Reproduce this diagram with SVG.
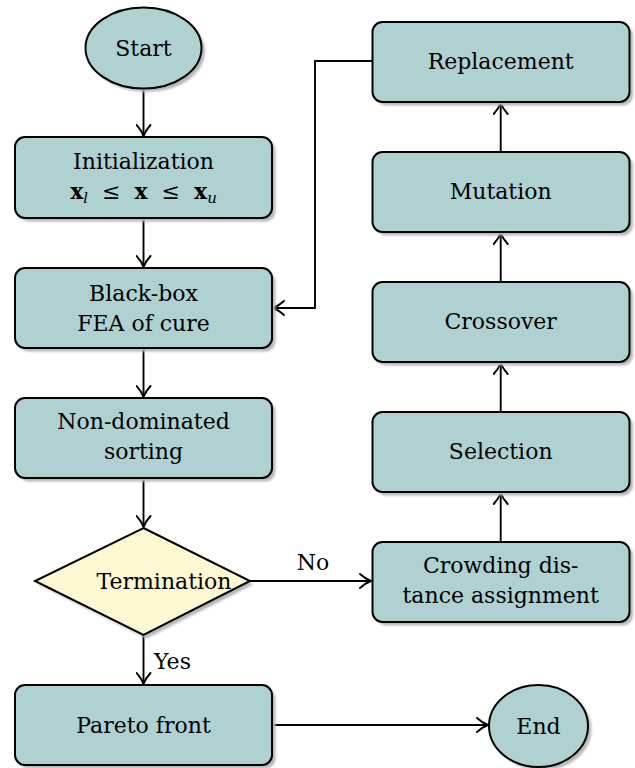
<svg xmlns="http://www.w3.org/2000/svg" width="635" height="768" viewBox="0 0 635 768">
<style>
.box{fill:#b0d1d2;stroke:#000;stroke-width:2}
.dec{fill:#fdf8d2;stroke:#000;stroke-width:2}
.sh{fill:#b8b8b8}
.t{font-family:"DejaVu Serif","Liberation Serif",serif;font-size:22px;fill:#000;text-anchor:middle}
.lbl{font-family:"DejaVu Serif","Liberation Serif",serif;font-size:22px;fill:#000}
.c{fill:none;stroke:#000;stroke-width:1.9}
</style>
<defs>
<marker id="ah" viewBox="0 0 14 16" refX="12.5" refY="8" markerWidth="14" markerHeight="16" markerUnits="userSpaceOnUse" orient="auto">
<path d="M1.5,1 Q7,6 12.5,8 Q7,10 1.5,15" fill="none" stroke="#000" stroke-width="1.9" stroke-linecap="round" stroke-linejoin="round"/>
</marker>
<filter id="blur" x="-10%" y="-10%" width="120%" height="120%"><feGaussianBlur stdDeviation="1"/></filter>
</defs>
<rect width="635" height="768" fill="#fff"/>

<g id="connectors">
<path class="c" d="M143.5,88 V136" marker-end="url(#ah)"/>
<path class="c" d="M143.5,218 V267" marker-end="url(#ah)"/>
<path class="c" d="M143.5,348 V397" marker-end="url(#ah)"/>
<path class="c" d="M143.5,478 V527" marker-end="url(#ah)"/>
<path class="c" d="M143.5,635 V684" marker-end="url(#ah)"/>
<path class="c" d="M250,581 H371" marker-end="url(#ah)"/>
<path class="c" d="M272,725 H488" marker-end="url(#ah)"/>
<path class="c" d="M500.7,542 V493" marker-end="url(#ah)"/>
<path class="c" d="M500.7,412 V363" marker-end="url(#ah)"/>
<path class="c" d="M500.7,282 V233" marker-end="url(#ah)"/>
<path class="c" d="M500.7,152 V103" marker-end="url(#ah)"/>
<path class="c" d="M372,61 H315 V308 H273" marker-end="url(#ah)"/>
<text class="lbl" x="313" y="570" text-anchor="middle">No</text>
<text class="lbl" x="154" y="669">Yes</text>
</g>

<g id="start">
<ellipse class="sh" cx="147" cy="51.5" rx="58" ry="40.5" filter="url(#blur)"/>
<ellipse class="box" cx="143.5" cy="48" rx="58" ry="40.5"/>
<text class="t" x="143.5" y="56">Start</text>
</g>

<g id="init">
<rect class="sh" x="18.5" y="140.5" width="257" height="81" rx="10" filter="url(#blur)"/>
<rect class="box" x="15" y="137" width="257" height="81" rx="10"/>
<text class="t" x="143.5" y="169">Initialization</text>
<text class="t" x="143.5" y="199"><tspan font-weight="bold">x</tspan><tspan font-style="italic" font-size="15" dy="4">l</tspan><tspan dy="-4" xml:space="preserve">  ≤  </tspan><tspan font-weight="bold">x</tspan><tspan xml:space="preserve">  ≤  </tspan><tspan font-weight="bold">x</tspan><tspan font-style="italic" font-size="15" dy="4">u</tspan></text>
</g>

<g id="blackbox">
<rect class="sh" x="18.5" y="271.5" width="257" height="80" rx="10" filter="url(#blur)"/>
<rect class="box" x="15" y="268" width="257" height="80" rx="10"/>
<text class="t" x="143.5" y="301">Black-box</text>
<text class="t" x="143.5" y="331">FEA of cure</text>
</g>

<g id="nondom">
<rect class="sh" x="18.5" y="401.5" width="257" height="80" rx="10" filter="url(#blur)"/>
<rect class="box" x="15" y="398" width="257" height="80" rx="10"/>
<text class="t" x="143.5" y="429">Non-dominated</text>
<text class="t" x="143.5" y="459">sorting</text>
</g>

<g id="termination">
<polygon class="sh" points="146.5,531.5 253.5,584.5 146.5,638.5 38.5,584.5" filter="url(#blur)"/>
<polygon class="dec" points="143.5,528 250,581 143.5,635 35,581"/>
<text class="t" x="164" y="589">Termination</text>
</g>

<g id="pareto">
<rect class="sh" x="18.5" y="688.5" width="257" height="80" rx="10" filter="url(#blur)"/>
<rect class="box" x="15" y="685" width="257" height="80" rx="10"/>
<text class="t" x="143.5" y="733">Pareto front</text>
</g>

<g id="end">
<ellipse class="sh" cx="542" cy="729.5" rx="49.5" ry="41" filter="url(#blur)"/>
<ellipse class="box" cx="538.5" cy="726" rx="49.5" ry="41"/>
<text class="t" x="538.5" y="734">End</text>
</g>

<g id="replacement">
<rect class="sh" x="376" y="25.5" width="257" height="80" rx="10" filter="url(#blur)"/>
<rect class="box" x="372.5" y="22" width="257" height="80" rx="10"/>
<text class="t" x="500.7" y="69">Replacement</text>
</g>

<g id="mutation">
<rect class="sh" x="376" y="155.5" width="257" height="80" rx="10" filter="url(#blur)"/>
<rect class="box" x="372.5" y="152" width="257" height="80" rx="10"/>
<text class="t" x="500.7" y="199">Mutation</text>
</g>

<g id="crossover">
<rect class="sh" x="376" y="285.5" width="257" height="80" rx="10" filter="url(#blur)"/>
<rect class="box" x="372.5" y="282" width="257" height="80" rx="10"/>
<text class="t" x="500.7" y="329">Crossover</text>
</g>

<g id="selection">
<rect class="sh" x="376" y="415.5" width="257" height="80" rx="10" filter="url(#blur)"/>
<rect class="box" x="372.5" y="412" width="257" height="80" rx="10"/>
<text class="t" x="500.7" y="459">Selection</text>
</g>

<g id="crowding">
<rect class="sh" x="376" y="545.5" width="257" height="80" rx="10" filter="url(#blur)"/>
<rect class="box" x="372.5" y="542" width="257" height="80" rx="10"/>
<text class="t" x="500.7" y="573">Crowding dis-</text>
<text class="t" x="500.7" y="603">tance assignment</text>
</g>
</svg>
